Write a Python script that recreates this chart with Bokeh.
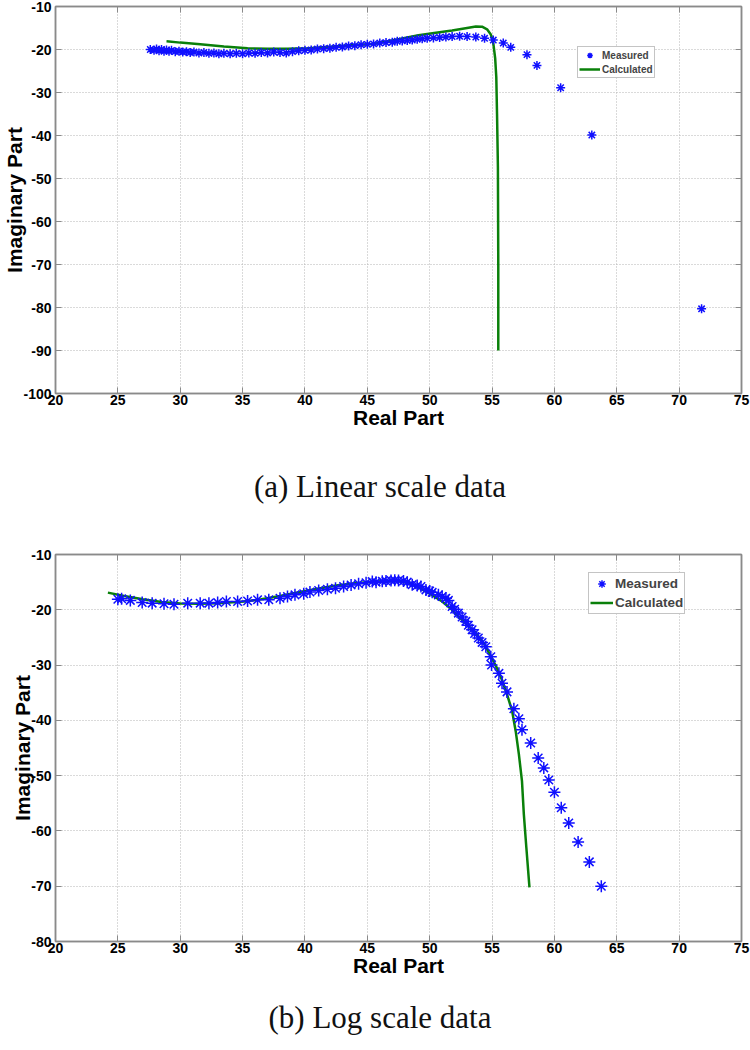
from bokeh.plotting import figure
from bokeh.models import FixedTicker, Div, Range1d, LinearAxis
from bokeh.layouts import column
from bokeh.embed import file_html
from bokeh.resources import INLINE

# ---------------- data: (a) linear scale ----------------
meas_a_x = [27.6, 27.9, 28.1, 28.3, 28.5, 28.7, 28.9, 29.1, 29.3, 29.6, 29.9, 30.2, 30.5, 30.8,
            31.1, 31.5, 31.9, 32.3, 32.7, 33.1, 33.5, 34.0, 34.5, 35.0, 35.5, 36.0, 36.5, 37.0,
            37.5, 38.0, 38.5, 39.0, 39.5, 40.0, 40.5, 41.0, 41.5, 42.0, 42.5, 43.0, 43.5, 44.0,
            44.5, 45.0, 45.5, 46.0, 46.5, 47.0, 47.4, 47.8, 48.2, 48.6, 49.0, 49.4, 49.8, 50.3,
            50.8, 51.3, 51.8, 52.4, 53.0, 53.7, 54.4, 55.1, 55.9, 56.5, 57.8, 58.6, 60.5, 63.0, 71.8]
meas_a_y = [-20.0, -20.2, -19.9, -20.3, -20.0, -20.4, -20.1, -20.4, -20.2, -20.5, -20.4, -20.6, -20.5, -20.7,
            -20.6, -20.8, -20.7, -20.9, -20.8, -21.0, -20.9, -21.0, -20.9, -21.0, -20.8, -20.9, -20.7, -20.8,
            -20.6, -20.7, -20.8, -20.5, -20.3, -20.2, -20.1, -19.9, -19.8, -19.7, -19.5, -19.4, -19.2, -19.1,
            -18.9, -18.8, -18.7, -18.5, -18.4, -18.3, -18.1, -18.0, -17.9, -17.8, -17.6, -17.5, -17.4, -17.3,
            -17.2, -17.1, -17.0, -16.9, -17.0, -17.1, -17.4, -17.8, -18.5, -19.5, -21.2, -23.7, -28.9, -39.9, -80.3]
calc_a_x = [28.9, 30.0, 31.6, 33.5, 35.4, 37.0, 38.6, 40.3, 42.3, 44.0, 45.5, 47.3, 49.1, 50.5,
            51.8, 53.0, 53.7, 54.2, 54.6, 54.9, 55.1, 55.25, 55.34, 55.4, 55.47, 55.5, 55.5]
calc_a_y = [-18.1, -18.4, -18.8, -19.3, -19.7, -19.85, -19.85, -19.7, -19.3, -18.95, -18.7, -17.7, -16.7, -16.1,
            -15.6, -15.0, -14.65, -14.7, -15.3, -16.5, -18.5, -22.0, -26.4, -35.0, -47.4, -70.0, -90.0]

# ---------------- data: (b) log scale ----------------
meas_b_x = [25.0, 25.3, 26.0, 26.95, 27.75, 28.7, 29.5, 30.6, 31.6, 32.3, 33.0, 33.7, 34.6, 35.4,
            36.2, 37.1, 38.0, 38.6, 39.2, 39.9, 40.4, 41.1, 41.8, 42.45, 43.1, 43.7, 44.3, 44.9,
            45.4, 45.7, 46.2, 46.5, 46.9, 47.2, 47.5, 47.9, 48.2, 48.6, 49.0, 49.3, 49.7, 50.0,
            50.2, 50.7, 51.0, 51.3, 51.5, 51.8, 52.0, 52.3, 52.6, 52.9, 53.1, 53.4, 53.6, 53.9,
            54.2, 54.5, 54.9, 54.96, 55.55, 55.8, 56.2, 56.75, 57.15, 57.4, 58.1, 58.7, 59.15,
            59.55, 60.0, 60.55, 61.15, 61.9, 62.8, 63.76]
meas_b_y = [-18.1, -18.0, -18.3, -18.7, -18.8, -18.9, -19.0, -18.8, -18.8, -18.8, -18.7, -18.5, -18.5, -18.4,
            -18.2, -18.2, -17.9, -17.6, -17.3, -17.1, -16.8, -16.5, -16.3, -16.1, -15.8, -15.5, -15.3, -15.1,
            -14.9, -15.0, -14.85, -14.8, -14.7, -14.65, -14.7, -14.8, -15.0, -15.45, -15.6, -15.8, -16.4, -16.6,
            -16.85, -17.3, -17.6, -17.9, -18.3, -19.4, -19.9, -20.6, -21.3, -22.1, -22.8, -23.6, -24.3, -25.1,
            -25.9, -26.7, -28.5, -30.0, -31.5, -33.3, -34.85, -37.9, -39.7, -41.7, -44.1, -46.8, -48.6,
            -50.8, -53.0, -55.8, -58.55, -62.0, -65.6, -70.0]
calc_b_x = [24.2, 25.5, 27.0, 28.5, 30.0, 31.5, 33.0, 34.5, 35.1, 36.5, 38.0, 39.6, 41.0, 42.5,
            44.0, 45.5, 46.5, 47.3, 48.3, 49.0, 49.7, 50.3, 51.0, 51.7, 52.3, 53.0, 53.7, 54.4,
            55.0, 55.4, 55.8, 56.2, 56.6, 56.9, 57.15, 57.4, 57.55, 57.75, 58.0]
calc_b_y = [-16.9, -17.5, -18.1, -18.6, -18.85, -18.9, -18.8, -18.6, -18.5, -18.1, -17.5, -16.8, -16.2, -15.6,
            -15.2, -14.95, -14.8, -14.75, -15.15, -15.8, -16.7, -17.5, -18.5, -19.8, -21.2, -22.7, -24.2, -26.3,
            -28.8, -30.6, -32.7, -35.3, -38.2, -42.0, -46.1, -51.0, -57.0, -63.0, -70.2]

x_ticks = [20, 25, 30, 35, 40, 45, 50, 55, 60, 65, 70, 75]
y_ticks_a = [-100, -90, -80, -70, -60, -50, -40, -30, -20, -10]
y_ticks_b = [-80, -70, -60, -50, -40, -30, -20, -10]

FONT = "Liberation Sans"
GRID_COLOR = "#b4b4b4"
AX_COLOR = "#8a8a8a"
BLUE = "#1010ff"
GREEN = "#0a800a"


def style_axis(ax):
    ax.major_label_text_font = FONT
    ax.major_label_text_font_style = "bold"
    ax.major_label_text_font_size = "14px"
    ax.major_label_text_color = "black"
    ax.axis_line_color = AX_COLOR
    ax.axis_line_width = 1.5
    ax.major_tick_in = 6
    ax.major_tick_out = 0
    ax.major_tick_line_color = AX_COLOR
    ax.minor_tick_line_color = None
    ax.axis_label_text_font = FONT
    ax.axis_label_text_font_style = "bold"
    ax.axis_label_text_font_size = "21px"
    ax.axis_label_text_color = "black"


def make_fig(top, yr, yticks, mx, my, lx, ly, leg_loc, leg_font, leg_gw, leg_gh, msize):
    p = figure(width=750, height=top + 387 + 40, min_border_left=55, min_border_right=9,
               min_border_top=top, min_border_bottom=40,
               x_range=Range1d(20, 75), y_range=Range1d(*yr),
               output_backend="svg", toolbar_location=None)
    p.xaxis.ticker = FixedTicker(ticks=x_ticks)
    p.yaxis.ticker = FixedTicker(ticks=yticks)
    p.xaxis.major_label_overrides = {t: str(t) for t in x_ticks}
    p.yaxis.major_label_overrides = {t: str(t) for t in yticks}
    style_axis(p.xaxis[0])
    style_axis(p.yaxis[0])
    p.xaxis.axis_label = "Real Part"
    p.xaxis.major_label_standoff = 1
    p.xaxis.axis_label_standoff = -2
    p.yaxis.axis_label = "Imaginary Part"
    p.yaxis.major_label_standoff = 4
    p.yaxis.axis_label_standoff = -6

    # MATLAB-style box ticks on top and right (no labels drawn)
    for loc, tk in (("above", x_ticks), ("right", yticks)):
        ax = LinearAxis(ticker=FixedTicker(ticks=tk), axis_label=None)
        ax.major_label_text_font_size = "1px"
        ax.major_label_text_color = None
        ax.major_label_standoff = 0
        ax.axis_line_color = AX_COLOR
        ax.axis_line_width = 1.5
        ax.major_tick_in = 6
        ax.major_tick_out = 0
        ax.major_tick_line_color = AX_COLOR
        ax.minor_tick_line_color = None
        p.add_layout(ax, loc)

    p.grid.grid_line_color = GRID_COLOR
    p.grid.grid_line_dash = "1 2"
    p.grid.grid_line_width = 1
    p.outline_line_color = AX_COLOR
    p.outline_line_width = 1.5

    p.line(lx, ly, line_color=GREEN, line_width=2.5, legend_label="Calculated")
    p.scatter(mx, my, marker="asterisk", size=msize, line_color=BLUE, line_width=1.5,
              legend_label="Measured")
    items = p.legend[0].items
    p.legend[0].items = [items[1], items[0]]

    lg = p.legend[0]
    lg.location = leg_loc
    lg.label_text_font = FONT
    lg.label_text_font_style = "bold"
    lg.label_text_font_size = leg_font
    lg.border_line_color = AX_COLOR
    lg.border_line_width = 1
    lg.padding = 1
    lg.spacing = 0
    lg.margin = 0
    lg.glyph_width = leg_gw
    lg.glyph_height = leg_gh
    lg.label_height = leg_gh
    lg.label_standoff = 2
    lg.background_fill_alpha = 1
    return p


p1 = make_fig(6, (-100, -10), y_ticks_a, meas_a_x, meas_a_y, calc_a_x, calc_a_y,
              (522, 315), "10px", 21, 14, 9)
p2 = make_fig(8, (-80, -10), y_ticks_b, meas_b_x, meas_b_y, calc_b_x, calc_b_y,
              (533, 327), "13.5px", 23, 19, 12)

cap_style = "text-align:center;font-family:'Liberation Serif';font-size:31px;color:#111;width:750px;"
d1 = Div(text=f"<div style=\"{cap_style}padding-top:27px;\">(a) Linear scale data</div>",
         width=750, height=103)
d2 = Div(text=f"<div style=\"{cap_style}padding-top:10px;\">(b) Log scale data</div>",
         width=750, height=60)

layout = column(p1, d1, p2, d2, spacing=0)
open("out.html", "w").write(file_html(layout, INLINE))
